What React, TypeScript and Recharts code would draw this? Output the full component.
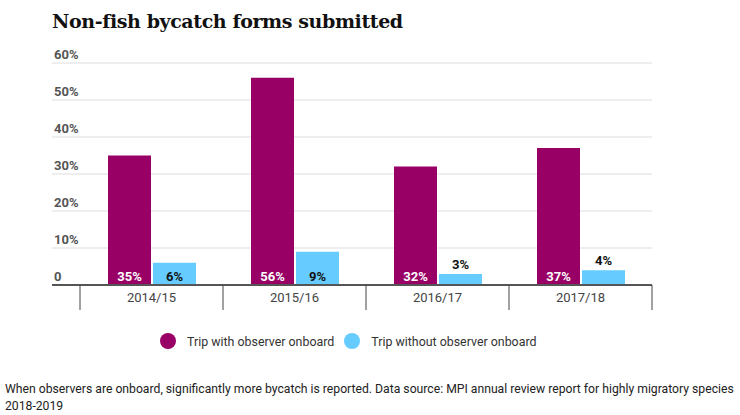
import { BarChart, Bar, XAxis, YAxis, CartesianGrid, LabelList } from "recharts";

const seasons = ["2014/15", "2015/16", "2016/17", "2017/18"];
const withObserver = [35, 56, 32, 37];
const withoutObserver = [6, 9, 3, 4];
const yTicks = [0, 10, 20, 30, 40, 50, 60];

const PURPLE = "#990066";
const BLUE = "#66ccff";
const FONT = "Roboto, 'Noto Sans', sans-serif";

const data = seasons.map((s, i) => ({
  season: s,
  with: withObserver[i],
  without: withoutObserver[i],
}));

// layout
const W = 740;
const H = 320;
const LEFT = 52;
const RIGHT = 652;
const YAXIS_W = 28;
const XAXIS_H = 25;
const BAND = (RIGHT - LEFT - YAXIS_W) / seasons.length;

function YTick(props: any) {
  const { y, payload } = props;
  const zero = payload.value === 0;
  return (
    <g>
      <line
        x1={LEFT}
        x2={LEFT + YAXIS_W}
        y1={y}
        y2={y}
        stroke={zero ? "#555" : "#dddddd"}
        strokeWidth={zero ? 2 : 1}
      />
      <text x={LEFT + 2} y={y - 4} fill="#555" fontSize={13} fontWeight={700} fontFamily={FONT}>
        {zero ? "0" : `${payload.value}%`}
      </text>
    </g>
  );
}

function XTick(props: any) {
  const { x, y, payload, index } = props;
  const last = index === seasons.length - 1;
  return (
    <g>
      <line x1={x - BAND / 2} x2={x - BAND / 2} y1={y - 8} y2={y + 17} stroke="#444" strokeWidth={1} />
      {last && <line x1={x + BAND / 2} x2={x + BAND / 2} y1={y - 8} y2={y + 17} stroke="#444" strokeWidth={1} />}
      <text x={x} y={y + 9} textAnchor="middle" fill="#444" fontSize={13} fontFamily={FONT}>
        {payload.value}
      </text>
    </g>
  );
}

function makeLabel(inside: string) {
  return (props: any) => {
    const { x, y, width, height, value } = props;
    const small = value < 5;
    return (
      <text
        x={x + width / 2}
        y={small ? y - 5 : y + height - 4}
        textAnchor="middle"
        fill={small ? "#111" : inside}
        fontSize={13}
        fontWeight={700}
        fontFamily={FONT}
      >
        {value}%
      </text>
    );
  };
}

function LegendRow() {
  const items = [
    { label: "Trip with observer onboard", color: PURPLE },
    { label: "Trip without observer onboard", color: BLUE },
  ];
  return (
    <div
      style={{
        position: "absolute",
        left: 160,
        top: 333,
        display: "flex",
        alignItems: "center",
        gap: 10,
        fontFamily: FONT,
        fontSize: 12.4,
        color: "#333",
      }}
    >
      {items.map((it) => (
        <div key={it.label} style={{ display: "flex", alignItems: "center" }}>
          <span
            style={{
              width: 16,
              height: 16,
              borderRadius: "50%",
              background: it.color,
              display: "inline-block",
              marginRight: 11,
            }}
          />
          {it.label}
        </div>
      ))}
    </div>
  );
}

export default function App() {
  return (
    <div style={{ position: "relative", width: W, height: 415, background: "#fff", overflow: "hidden" }}>
      <style>{`body{margin:0}`}</style>
      <div
        style={{
          position: "absolute",
          left: 52,
          top: 10,
          fontFamily: "'DejaVu Serif', serif",
          fontWeight: 700,
          fontSize: 19,
          color: "#111",
          letterSpacing: -0.4,
        }}
      >
        Non-fish bycatch forms submitted
      </div>
      <div style={{ position: "absolute", left: 0, top: 0 }}>
        <BarChart
          width={W}
          height={H}
          data={data}
          margin={{ top: 63, left: LEFT, right: W - RIGHT, bottom: H - 285 - XAXIS_H }}
          barSize={43}
          barGap={2}
        >
          <CartesianGrid horizontal vertical={false} stroke="#dddddd" />
          <YAxis
            width={YAXIS_W}
            domain={[0, 60]}
            ticks={yTicks}
            axisLine={false}
            tickLine={false}
            tick={<YTick />}
          />
          <XAxis
            dataKey="season"
            height={XAXIS_H}
            axisLine={{ stroke: "#555", strokeWidth: 2 }}
            tickLine={false}
            tick={<XTick />}
            interval={0}
          />
          <Bar dataKey="with" fill={PURPLE} isAnimationActive={false}>
            <LabelList dataKey="with" content={makeLabel("#fff")} />
          </Bar>
          <Bar dataKey="without" fill={BLUE} isAnimationActive={false}>
            <LabelList dataKey="without" content={makeLabel("#111")} />
          </Bar>
        </BarChart>
      </div>
      <LegendRow />
      <div
        style={{
          position: "absolute",
          left: 5,
          top: 381,
          width: 734,
          fontFamily: FONT,
          fontSize: 12.2,
          lineHeight: "17px",
          color: "#222",
        }}
      >
        When observers are onboard, significantly more bycatch is reported. Data source: MPI annual review report for highly
        migratory species 2018-2019
      </div>
    </div>
  );
}
